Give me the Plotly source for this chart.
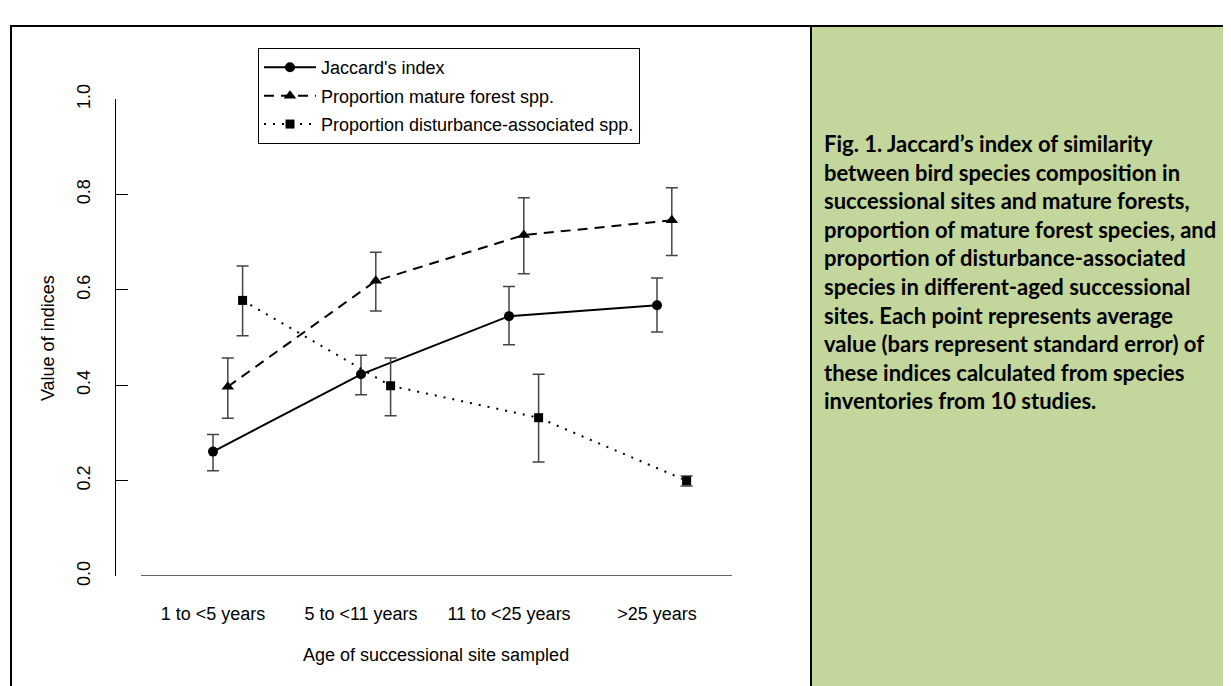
import plotly.graph_objects as go

# ---- data ----
categories = ["1 to <5 years", "5 to <11 years", "11 to <25 years", ">25 years"]
jaccard = [0.261, 0.423, 0.545, 0.568]
jaccard_hi = [0.297, 0.463, 0.607, 0.625]
jaccard_lo = [0.221, 0.380, 0.485, 0.512]
mature = [0.397, 0.619, 0.715, 0.746]
mature_hi = [0.457, 0.679, 0.793, 0.814]
mature_lo = [0.331, 0.556, 0.634, 0.672]
disturb = [0.578, 0.399, 0.332, 0.200]
disturb_hi = [0.650, 0.457, 0.423, 0.210]
disturb_lo = [0.504, 0.336, 0.239, 0.189]
y_ticks = [0.0, 0.2, 0.4, 0.6, 0.8, 1.0]
caption = ("Fig. 1. Jaccard\u2019s index of similarity<br>"
           "between bird species composition in<br>"
           "successional sites and mature forests,<br>"
           "proportion of mature forest species, and<br>"
           "proportion of disturbance-associated<br>"
           "species in different-aged successional<br>"
           "sites. Each point represents average<br>"
           "value (bars represent standard error) of<br>"
           "these indices calculated from species<br>"
           "inventories from 10 studies.")

W, H = 1231, 686
OFF = 8  # page body margin
FONT = "Liberation Sans, Arial, sans-serif"
FS = 18

def px(x):
    return (x - OFF) / W

def py(y):
    return 1 - (y - OFF) / H

pos = list(range(1, len(categories) + 1))

series = [
    ("Jaccard's index", jaccard, jaccard_hi, jaccard_lo, 0.0, "circle", "solid", 10),
    ("Proportion mature forest spp.", mature, mature_hi, mature_lo, 0.1, "triangle-up", "10px,7px", 11),
    ("Proportion disturbance-associated spp.", disturb, disturb_hi, disturb_lo, 0.2, "square", "2px,7px", 9),
]

fig = go.Figure()
for i, (name, vals, hi, lo, off, sym, dash, msize) in enumerate(series):
    fig.add_trace(go.Scatter(
        x=[p + off for p in pos], y=vals, name=name, mode="lines+markers",
        legendgroup=f"g{i}",
        line=dict(color="black", width=2, dash=dash),
        marker=dict(symbol=sym, size=msize, color="black"),
        error_y=dict(type="data", symmetric=False,
                     array=[h - v for h, v in zip(hi, vals)],
                     arrayminus=[v - l for v, l in zip(vals, lo)],
                     color="#444444", thickness=1.5, width=6),
        cliponaxis=False,
    ))

# x axis geometry: categories at 213,361,509,657 px; plot area 116..732 px
x0 = 1 + (116 - 213) / 148
x1 = 1 + (732 - 213) / 148
xline0 = 1 + (141 - 213) / 148

fig.update_layout(
    width=W, height=H,
    margin=dict(l=0, r=0, t=0, b=0),
    paper_bgcolor="white", plot_bgcolor="white",
    showlegend=True,
    legend=dict(x=px(258), y=py(34), xanchor="left", yanchor="top",
                bordercolor="black", borderwidth=1, bgcolor="white",
                font=dict(family=FONT, size=FS, color="black"),
                tracegroupgap=2, itemwidth=52),
    xaxis=dict(domain=[px(116), px(732)], range=[x0, x1],
               tickvals=pos, ticktext=categories, showgrid=False, zeroline=False,
               showline=False, ticks="", ticklabelstandoff=25,
               tickfont=dict(family=FONT, size=FS, color="black")),
    yaxis=dict(domain=[py(582), py(87)], range=[0, 1],
               tickvals=y_ticks, ticktext=[f"{v:.1f}" for v in y_ticks],
               showgrid=False, zeroline=False, showline=True, linecolor="black",
               linewidth=1, ticks="inside", ticklen=12, tickcolor="black",
               tickangle=-90, ticklabelstandoff=18,
               tickfont=dict(family=FONT, size=FS, color="black")),
    font=dict(family=FONT, size=FS, color="black"),
)

shapes = [
    # green caption panel
    dict(type="rect", xref="paper", yref="paper", x0=px(811), x1=px(1245), y0=py(700), y1=py(11),
         fillcolor="#c3d69b", line=dict(color="black", width=2), layer="below"),
    # outer border
    dict(type="rect", xref="paper", yref="paper", x0=px(11), x1=px(1245), y0=py(700), y1=py(11),
         fillcolor="rgba(0,0,0,0)", line=dict(color="black", width=2)),
    # x axis line
    dict(type="line", xref="x", yref="y", x0=xline0, x1=x1, y0=0, y1=0,
         line=dict(color="#333333", width=1.5)),
]
fig.update_layout(shapes=shapes)

fig.add_annotation(text="Value of indices", xref="paper", yref="paper",
                   x=px(36), y=py(335), textangle=-90, showarrow=False,
                   font=dict(family=FONT, size=FS, color="black"))
fig.add_annotation(text="Age of successional site sampled", xref="paper", yref="paper",
                   x=px(436), y=py(676), showarrow=False,
                   font=dict(family=FONT, size=FS, color="black"))
fig.add_annotation(text=caption, xref="paper", yref="paper",
                   x=px(822), y=py(117), xanchor="left", yanchor="top", align="left",
                   showarrow=False,
                   font=dict(family="Lato, Open Sans, sans-serif", size=22, color="black", weight="bold"))

fig.write_html("out.html")
